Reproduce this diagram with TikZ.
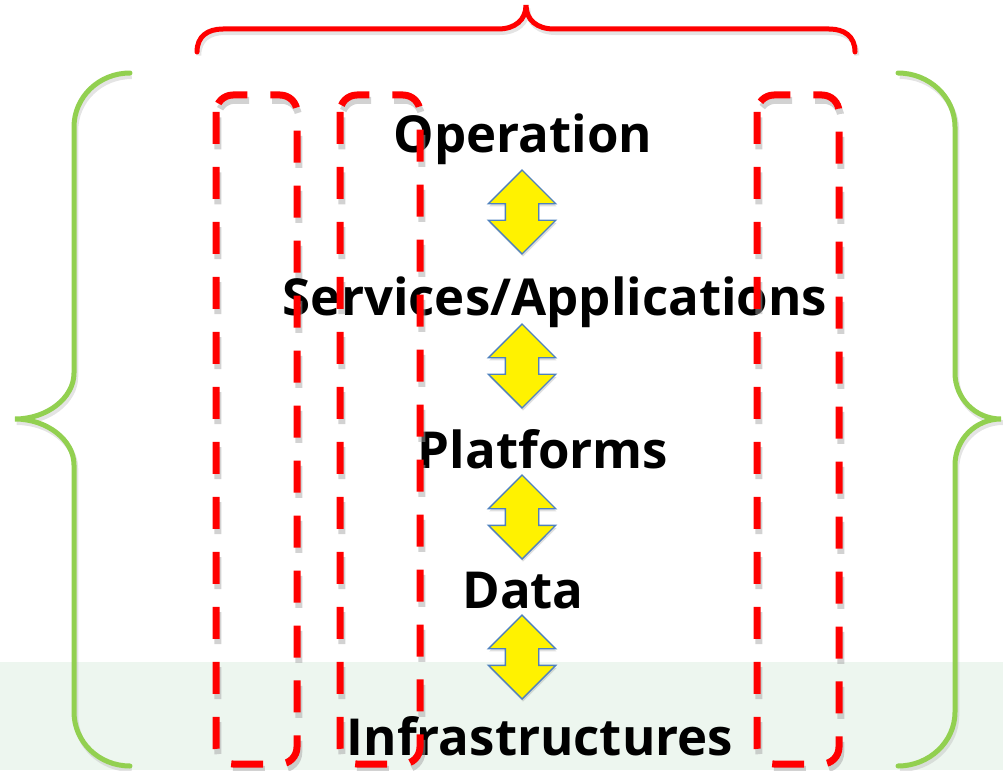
\documentclass[tikz,border=0pt]{standalone}
\usepackage{fontspec}
\setmainfont{Open Sans}
\usetikzlibrary{shapes.arrows,shadows}
\definecolor{bracegreen}{HTML}{92D050}
\definecolor{bandgreen}{HTML}{EDF6EF}
\definecolor{arrowblue}{HTML}{4F81BD}

\begin{document}
\begin{tikzpicture}[x=0.02cm, y=-0.02cm,
        layer/.style={font=\fontsize{29}{34}\selectfont\bfseries, inner sep=0pt, anchor=base},
        updown/.style={double arrow, shape border rotate=90, draw=arrowblue, line width=0.8pt, fill=yellow,
            minimum height=1.68cm, minimum width=1.32cm, double arrow head extend=0.34cm, inner sep=0.32cm,
            drop shadow={opacity=0.25, shadow xshift=0.5pt, shadow yshift=-1.5pt}},
        column/.style={draw=red, line width=0.14cm, rounded corners=0.34cm, dash pattern=on 0.64cm off 0.46cm,
            preaction={draw=gray!70, opacity=0.5, line width=0.14cm, dash pattern=on 0.64cm off 0.46cm,
                transform canvas={shift={(1pt,-3pt)}}}},
        brace/.style={line width=0.1cm, line cap=round,
            preaction={draw=gray!60, opacity=0.35, line width=0.1cm, transform canvas={shift={(1pt,-2pt)}}}}]
        \useasboundingbox (0,0) rectangle (1003,770);
        \fill[bandgreen] (0,662) rectangle (1003,770);

        % braces
        \draw[brace, red] (197,52) .. controls (197,36) and (208,29) .. (223,29) -- (498,29)
            .. controls (515,29) and (526,20) .. (526,5) .. controls (526,20) and (537,29) .. (554,29)
            -- (829,29) .. controls (844,29) and (855,36) .. (855,52);
        \draw[brace, bracegreen] (130,73) .. controls (99,73) and (74,97) .. (74,127) -- (74,373)
            .. controls (74,398) and (47,419) .. (15,419) .. controls (47,419) and (74,440) .. (74,465)
            -- (74,712) .. controls (74,742) and (99,766) .. (130,766);
        \draw[brace, bracegreen] (898,73) .. controls (929,73) and (955,97) .. (955,127) -- (955,373)
            .. controls (955,398) and (975,419) .. (1001,419) .. controls (975,419) and (955,440) .. (955,465)
            -- (955,712) .. controls (955,742) and (929,766) .. (898,766);

        % layers
        \node[layer] (oper) at (523,153) {Operation};
        \node[layer] (serv) at (555,315) {Services/Applications};
        \node[layer] (plat) at (543,468) {Platforms};
        \node[layer] (data) at (523,608) {Data};
        \node[layer] (infra) at (540,755) {Infrastructures};

        \node[updown] (op-sv) at (522,212) {};
        \node[updown] (sv-pl) at (522,366) {};
        \node[updown] (pl-da) at (522,517) {};
        \node[updown] (da-in) at (522,657) {};

        % columns
        \draw[column] (216,95) rectangle (297,764);
        \draw[column] (340,95) rectangle (420,764);
        \draw[column] (757,95) rectangle (839,764);
    \end{tikzpicture}
\end{document}
